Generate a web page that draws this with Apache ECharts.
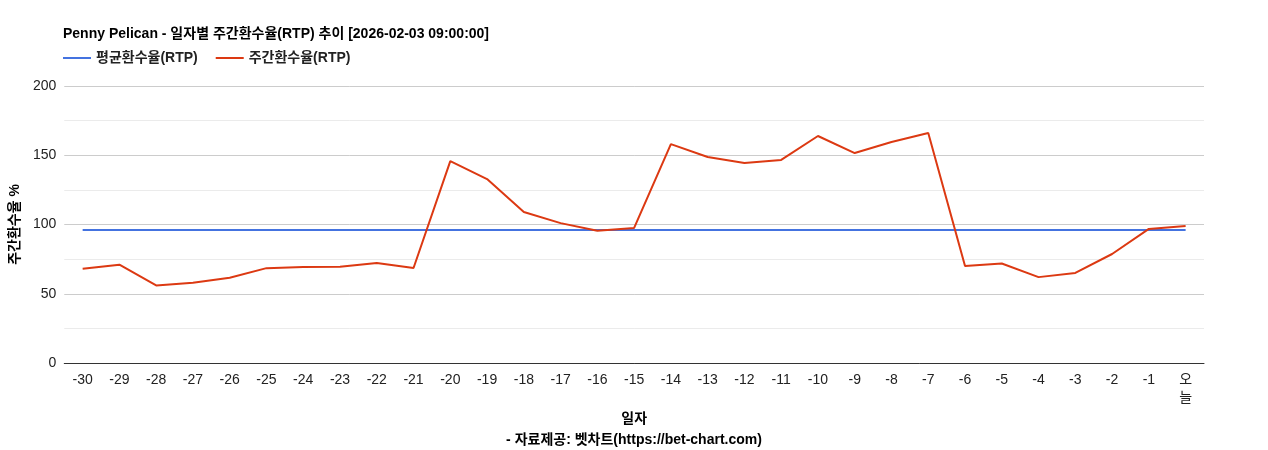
<!DOCTYPE html>
<html>
<head>
<meta charset="utf-8">
<script src="https://cdn.jsdelivr.net/npm/echarts@6/dist/echarts.min.js"></script>
<style>
  html, body { margin: 0; padding: 0; background: #fff; }
  #chart { width: 1268px; height: 450px; }
</style>
</head>
<body>
<div id="chart"></div>
<script>
// values
const days = ['-30','-29','-28','-27','-26','-25','-24','-23','-22','-21','-20','-19','-18','-17','-16','-15',
  '-14','-13','-12','-11','-10','-9','-8','-7','-6','-5','-4','-3','-2','-1','오늘'];
const weeklyRtp = [68, 71, 56, 58, 61.5, 68.5, 69.3, 69.5, 72.2, 68.6, 145.8, 132.8, 109, 101, 95.5, 97.5,
  158, 148.7, 144.4, 146.6, 163.9, 151.6, 159.6, 166, 70, 71.8, 62, 65, 78.7, 96.8, 99];
const avgRtp = days.map(() => 96);
const yTicks = [0, 50, 100, 150, 200];

const font = '"Liberation Sans", Arial, "Noto Sans CJK KR", sans-serif';
const chart = echarts.init(document.getElementById('chart'));

chart.setOption({
  textStyle: { fontFamily: font },
  title: [
    { text: 'Penny Pelican - 일자별 주간환수율(RTP) 추이 [2026-02-03 09:00:00]', left: 58, top: 22,
      textStyle: { fontSize: 14, fontWeight: 'bold', color: '#000', fontFamily: font } },
    { text: '- 자료제공: 벳차트(https://bet-chart.com)', left: 'center', top: 428,
      textStyle: { fontSize: 14, fontWeight: 'bold', color: '#000', fontFamily: font } }
  ],
  legend: {
    left: 58, top: 46, itemWidth: 28, itemHeight: 2, itemGap: 18, icon: 'rect',
    textStyle: { fontSize: 14, fontWeight: 'bold', color: '#222', fontFamily: font },
    data: ['평균환수율(RTP)', '주간환수율(RTP)']
  },
  grid: { left: 64, right: 64, top: 86, bottom: 87 },
  xAxis: {
    type: 'category', data: days, boundaryGap: true,
    name: '일자', nameLocation: 'middle', nameGap: 46,
    nameTextStyle: { fontSize: 14, fontWeight: 'bold', color: '#000', fontFamily: font },
    axisLine: { lineStyle: { color: '#333' } },
    axisTick: { show: false },
    axisLabel: { interval: 0, fontSize: 14, color: '#222', margin: 8, fontFamily: font,
      formatter: v => v === '오늘' ? '오\n늘' : v, lineHeight: 18 }
  },
  yAxis: {
    type: 'value', min: yTicks[0], max: yTicks[yTicks.length - 1], interval: 50,
    name: '주간환수율 %', nameLocation: 'middle', nameGap: 24, nameRotate: 90,
    nameTextStyle: { fontSize: 14, fontWeight: 'bold', color: '#000', fontFamily: font },
    axisLine: { show: false }, axisTick: { show: false },
    axisLabel: { fontSize: 14, color: '#222', fontFamily: font },
    splitLine: { lineStyle: { color: '#ccc' } },
    minorTick: { show: false, splitNumber: 2 },
    minorSplitLine: { show: true, lineStyle: { color: '#ebebeb' } }
  },
  series: [
    { name: '평균환수율(RTP)', type: 'line', data: avgRtp, symbol: 'none',
      color: '#4473e0', lineStyle: { width: 2 } },
    { name: '주간환수율(RTP)', type: 'line', data: weeklyRtp, symbol: 'none',
      color: '#dc3912', lineStyle: { width: 2 } }
  ]
});
window.addEventListener('resize', () => chart.resize());
</script>
</body>
</html>
